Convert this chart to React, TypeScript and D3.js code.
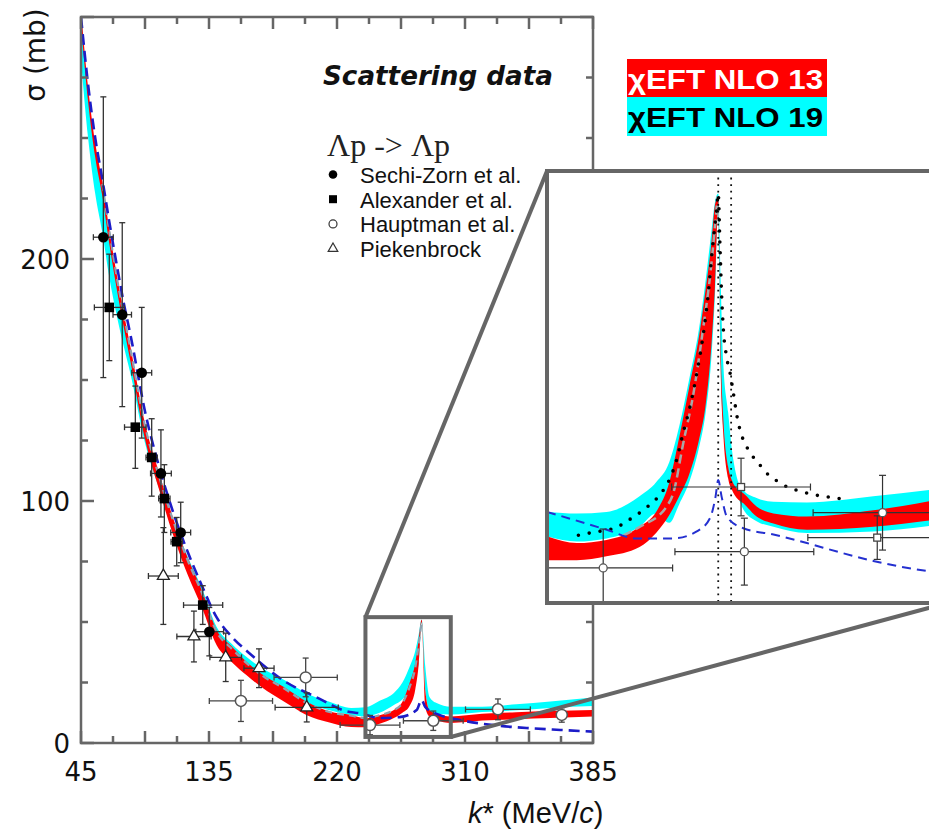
import { useEffect, useRef } from "react";
import * as d3 from "d3";

const W = 929;
const H = 832;

// labelled ticks on the k* axis (equally spaced on the page, not in value)
const kTickLabels = [45, 135, 220, 310, 385];
const sigmaTickLabels = [0, 100, 200];
const sigmaMax = 300;

// chiEFT bands, main panel (k* in MeV/c, sigma in mb)
const bandK = [45, 50, 55, 60, 65, 70, 75, 80, 90, 100, 110, 120, 130, 140, 150, 160, 170, 185, 200, 215, 230, 240, 250, 260, 266, 271, 275, 277.5, 279.5, 282, 285, 290, 300, 320, 340, 360, 385];
const nlo13Lo = [297, 265, 242, 226, 206, 188, 172, 157, 125.5, 104.5, 85.5, 69.5, 56, 40.5, 33.5, 28, 23, 17, 11.5, 8.5, 6.6, 6.5, 8, 10.3, 12.5, 15.3, 22, 33, 50, 15, 10.9, 9.5, 8.3, 9.3, 9.8, 10.3, 10.9];
const nlo13Hi = [303, 271, 248, 232, 212, 194, 178, 163, 132, 111.5, 92.5, 76.5, 63, 46.7, 40, 33.5, 28.5, 23, 17, 13, 11.6, 10.3, 11.5, 13.6, 17, 24.8, 33, 43, 51, 22, 13.6, 12, 11, 12.1, 12.7, 13.2, 13.6];
const nlo19Lo = [282, 250, 227, 211, 192, 177, 164, 152, 124, 105, 88, 72, 59, 44, 37, 31, 26, 21, 16.5, 13.5, 11.6, 11, 12.5, 15.7, 18, 21.9, 28, 33, 50, 22, 13.6, 12, 11.8, 12.8, 13.5, 14.5, 15.3];
const nlo19Hi = [300, 268, 245, 229, 209, 191, 175, 160, 129, 109, 92, 77, 64, 48, 41, 35.5, 31, 26, 20.5, 17, 14.5, 14.8, 17.5, 20.7, 25, 31.4, 38, 45, 51, 32, 19, 16.5, 15, 15, 16, 17.2, 18.8];

// blue dashed model curve
const dashK = [45, 50, 55, 60, 65, 70, 75, 80, 90, 100, 110, 120, 130, 140, 150, 162, 184, 206, 229, 236, 250, 264, 276, 279.5, 282, 292, 306.5, 326.6, 346, 366, 385];
const dashSigma = [300, 272, 250, 233, 215, 198, 182, 168, 137, 114, 95, 79, 65, 52, 44, 37, 26, 19, 12.8, 12.3, 10.3, 10.7, 13.6, 17.8, 14.9, 11.6, 9.5, 7.4, 6.2, 5.4, 4.7];

// grey dashed curve inside the bands
const grayK = [60, 70, 80, 90, 100, 110, 120, 130, 140, 150, 160, 170, 185, 200, 215, 230, 240, 250, 260, 266, 271, 275, 277.5, 279.5];
const graySigma = [231, 193, 162, 131, 110, 91.5, 75.5, 62, 46, 39, 33, 28, 22.5, 16.5, 12.8, 11.3, 10.3, 11.5, 13.6, 16.5, 23, 31, 41, 50];

// Lambda p data
const sechiK = [60.7, 74.0, 87.7, 101.2, 115.1, 135.2];
const sechiSigma = [209, 177, 153, 111.4, 87, 46];
const sechiKErr = [7, 6.5, 7, 7.3, 7, 9.5];
const sechiSigmaErr = [58, 38, 27, 18, 12.5, 10];

const alexanderK = [64.9, 83.2, 94.7, 103.6, 112.3, 130.6];
const alexanderSigma = [180, 130.5, 118, 101, 83.2, 57];
const alexanderKErr = [10.5, 7.6, 4, 4, 4, 13.5];
const alexanderSigmaErr = [22, 17, 16, 14, 10, 8];

const hauptmanK = [156.2, 199.2, 243.2, 287.7, 329.3, 366.7];
const hauptmanSigma = [17.4, 27.1, 7.4, 9.2, 13.9, 11.6];
const hauptmanKErr = [21, 21, 21, 21, 19, 0];
const hauptmanSigmaErr = [8.5, 8, 4, 4, 4.3, 3];

const piekenbrockK = [102.9, 124.4, 146.1, 168.2, 199.9];
const piekenbrockSigma = [69, 44, 35.4, 30.9, 14.7];
const piekenbrockKErr = [10.5, 12, 10.5, 10, 21];
const piekenbrockSigmaErr = [20, 10.5, 10, 8, 6];

const legendLabels = ["Sechi-Zorn et al.", "Alexander et al.", "Hauptman et al.", "Piekenbrock"];
const bandLabels = ["χEFT NLO 13", "χEFT NLO 19"];

// zoomed region marked in the main panel
const boxK = [240, 300];
const boxSigma = [2.5, 52];

// inset: Sigma N threshold region
const insetKDomain = [229, 350];
const insetSigmaDomain = [2.5, 58];
const thresholdK = [280.8, 284.7];
const insetBandK = [229.4, 238, 247, 257, 262, 266, 269, 272, 275, 277, 278.8, 279.8, 280.8, 281.5, 282.3, 283.8, 285, 286.4, 288.4, 292.4, 297.5, 307.6, 327.7, 350];
const insetNlo13Lo = [8.0, 8.0, 8.5, 9.7, 11.5, 13.8, 16.2, 19.0, 23.5, 28.0, 36.0, 43.1, 53.5, 33, 24.5, 18.5, 17, 16, 15.3, 13.6, 12.7, 11.9, 12.3, 13.4];
const insetNlo13Hi = [11.0, 10.2, 10.6, 12.3, 14.2, 18.0, 23.8, 30.2, 36.8, 42.8, 49.0, 53.6, 54.7, 36, 26.5, 20, 18.2, 17.2, 16.6, 14.9, 14.0, 13.6, 14.4, 16.0];
const insetNlo19Lo = [11.0, 10.4, 10.8, 12.3, 14.0, 12.8, 15.2, 18.0, 22.5, 27.0, 34.5, 42.0, 53.0, 33.7, 25.1, 19.5, 18.0, 16.5, 14.5, 13.0, 12.3, 11.5, 11.7, 12.7];
const insetNlo19Hi = [14.2, 14.0, 14.2, 16.2, 18.0, 20.6, 25.2, 31.2, 37.8, 44.0, 50.5, 54.0, 55.1, 44.4, 33.5, 27.0, 22.0, 18.7, 17.0, 16.0, 15.5, 15.4, 16.2, 17.3];
const insetGrayK = [252.1, 257.1, 265.2, 267.2, 270.2, 273.3, 276.3, 278.3, 279.8, 280.6];
const insetGraySigma = [11.2, 12.3, 14.9, 16.6, 23.0, 29.4, 38.0, 44.4, 50.8, 54.7];
const insetDotK = [238.5, 242, 246, 250.1, 253.1, 256.1, 259.2, 261.7, 264.2, 266.2, 268.2, 270.2, 272.3, 274.3, 276.3, 277.8, 279.1, 280.3, 280.8, 281.3, 281.8, 282.3, 283.3, 284.4, 285.4, 286.6, 287.9, 288.9, 290.6, 292.9, 295.4, 298.5, 301.7, 305.2, 308.8, 312.6, 316.3, 320.1];
const insetDotSigma = [11.2, 11.5, 11.8, 12.2, 13.0, 13.8, 14.8, 15.7, 17.0, 18.5, 20.9, 24.4, 27.8, 32.0, 37.1, 42.3, 48.3, 53.0, 55.1, 48.7, 42.3, 38.0, 34.2, 32.0, 29.4, 26.2, 24.0, 23.0, 21.7, 20.5, 19.2, 18.2, 17.4, 16.9, 16.5, 16.2, 16.0, 15.7];
const insetDashK = [229, 237, 247.1, 256.1, 267.2, 274.3, 278.3, 280.0, 280.8, 281.8, 283.4, 288.4, 297.5, 307.6, 317.6, 327.7, 344.2, 350];
const insetDashSigma = [14.2, 13.2, 11.9, 10.8, 10.8, 11.7, 13.4, 16.2, 18.3, 16.2, 13.6, 12.1, 11.3, 10.2, 9.0, 7.9, 6.6, 6.3];
const insetCircleK = [246.0, 288.7, 330.5];
const insetCircleSigma = [7.0, 9.1, 14.1];
const insetCircleKErr = [21, 21, 21];
const insetCircleSigmaErr = [5, 4.3, 4.8];
const insetSquareK = [287.7, 328.9];
const insetSquareSigma = [17.4, 10.9];
const insetSquareKErr = [21, 21];
const insetSquareSigmaErr = [3.7, 2.8];

const RED = "#ff0000";
const CYAN = "#00ffff";
const AXIS = "#666";
const SANS = "'DejaVu Sans', sans-serif";
const ARIAL = "'Liberation Sans', Arial, sans-serif";

const areaPath = (xs, ys, ks, lo, hi) =>
  d3.area<number>()
    .x(i => xs(ks[i]))
    .y0(i => ys(lo[i]))
    .y1(i => ys(hi[i]))
    .curve(d3.curveMonotoneX)(d3.range(ks.length));

const linePath = (xs, ys, ks, vs) =>
  d3.line<number>()
    .x(i => xs(ks[i]))
    .y(i => ys(vs[i]))
    .curve(d3.curveMonotoneX)(d3.range(ks.length));

function errorBars(g, xs, ys, ks, ss, kErr, sErr, color, width, cap) {
  ks.forEach((k, i) => {
    const cx = xs(k);
    const cy = ys(ss[i]);
    const seg = (x1, y1, x2, y2) =>
      g.append("line").attr("x1", x1).attr("y1", y1).attr("x2", x2).attr("y2", y2)
        .attr("stroke", color).attr("stroke-width", width);
    if (kErr[i] > 0) {
      const x0 = xs(k - kErr[i]);
      const x1 = xs(k + kErr[i]);
      seg(x0, cy, x1, cy);
      seg(x0, cy - cap, x0, cy + cap);
      seg(x1, cy - cap, x1, cy + cap);
    }
    if (sErr[i] > 0) {
      const y0 = ys(ss[i] - sErr[i]);
      const y1 = ys(ss[i] + sErr[i]);
      seg(cx, y0, cx, y1);
      seg(cx - cap, y0, cx + cap, y0);
      seg(cx - cap, y1, cx + cap, y1);
    }
  });
}

function drawChart(node) {
  const svg = d3.select(node);
  svg.selectAll("*").remove();

  const m = { left: 81, right: 593, top: 17, bottom: 743 };
  const x = d3.scaleLinear()
    .domain(kTickLabels)
    .range(kTickLabels.map((_, i) => m.left + (i * (m.right - m.left)) / (kTickLabels.length - 1)));
  const y = d3.scaleLinear().domain([0, sigmaMax]).range([m.bottom, m.top]);

  const defs = svg.append("defs");
  defs.append("clipPath").attr("id", "plot-clip").append("rect")
    .attr("x", m.left).attr("y", m.top)
    .attr("width", m.right - m.left).attr("height", m.bottom - m.top);

  svg.append("rect").attr("width", W).attr("height", H).attr("fill", "#fff");

  // bands and model curves
  const curves = svg.append("g").attr("clip-path", "url(#plot-clip)");
  curves.append("path").attr("d", areaPath(x, y, bandK, nlo19Lo, nlo19Hi)).attr("fill", CYAN);
  curves.append("path").attr("d", areaPath(x, y, bandK, nlo13Lo, nlo13Hi)).attr("fill", RED);
  curves.append("path").attr("d", linePath(x, y, grayK, graySigma))
    .attr("fill", "none").attr("stroke", "#8ea2b0").attr("stroke-width", 2.2).attr("stroke-dasharray", "7 5");
  curves.append("path").attr("d", linePath(x, y, dashK, dashSigma))
    .attr("fill", "none").attr("stroke", "#1c1cc8").attr("stroke-width", 2.6).attr("stroke-dasharray", "11 6");

  // data
  const pts = svg.append("g");
  errorBars(pts, x, y, sechiK, sechiSigma, sechiKErr, sechiSigmaErr, "#333", 1.3, 3);
  errorBars(pts, x, y, alexanderK, alexanderSigma, alexanderKErr, alexanderSigmaErr, "#333", 1.3, 3);
  errorBars(pts, x, y, piekenbrockK, piekenbrockSigma, piekenbrockKErr, piekenbrockSigmaErr, "#333", 1.3, 3);
  errorBars(pts, x, y, hauptmanK, hauptmanSigma, hauptmanKErr, hauptmanSigmaErr, "#444", 1.3, 3);

  pts.selectAll(".sechi").data(d3.range(sechiK.length)).join("circle")
    .attr("cx", i => x(sechiK[i])).attr("cy", i => y(sechiSigma[i])).attr("r", 5.3).attr("fill", "#000");
  pts.selectAll(".alex").data(d3.range(alexanderK.length)).join("rect")
    .attr("x", i => x(alexanderK[i]) - 4.8).attr("y", i => y(alexanderSigma[i]) - 4.8)
    .attr("width", 9.6).attr("height", 9.6).attr("fill", "#000");
  pts.selectAll(".haupt").data(d3.range(hauptmanK.length)).join("circle")
    .attr("cx", i => x(hauptmanK[i])).attr("cy", i => y(hauptmanSigma[i])).attr("r", 5.5)
    .attr("fill", "#fff").attr("stroke", "#555").attr("stroke-width", 1.5);
  const tri = d3.symbol(d3.symbolTriangle, 62);
  pts.selectAll(".piek").data(d3.range(piekenbrockK.length)).join("path")
    .attr("d", tri())
    .attr("transform", i => `translate(${x(piekenbrockK[i])},${y(piekenbrockSigma[i])})`)
    .attr("fill", "#fff").attr("stroke", "#222").attr("stroke-width", 1.3);

  // frame and ticks
  const axes = svg.append("g").attr("stroke", AXIS).attr("stroke-width", 2.5);
  axes.append("rect").attr("x", m.left).attr("y", m.top)
    .attr("width", m.right - m.left).attr("height", m.bottom - m.top).attr("fill", "none");
  const nx = (kTickLabels.length - 1) * 4;
  d3.range(nx + 1).forEach(i => {
    const kv = x.invert(m.left + (i * (m.right - m.left)) / nx);
    const len = i % 2 === 0 ? 12 : 7;
    axes.append("line").attr("x1", x(kv)).attr("x2", x(kv)).attr("y1", m.bottom).attr("y2", m.bottom - len);
    axes.append("line").attr("x1", x(kv)).attr("x2", x(kv)).attr("y1", m.top).attr("y2", m.top + len);
  });
  d3.range(0, sigmaMax + 1, 25).forEach(s => {
    const len = s % 100 === 0 ? 13 : 7;
    axes.append("line").attr("x1", m.left).attr("x2", m.left + len).attr("y1", y(s)).attr("y2", y(s));
    axes.append("line").attr("x1", m.right).attr("x2", m.right - len).attr("y1", y(s)).attr("y2", y(s));
  });

  svg.append("g").selectAll("text").data(kTickLabels).join("text")
    .attr("x", d => x(d)).attr("y", 781).attr("text-anchor", "middle")
    .attr("font-family", SANS).attr("font-size", 26).attr("fill", "#111").text(d => d);
  svg.append("g").selectAll("text").data(sigmaTickLabels).join("text")
    .attr("x", 70).attr("y", d => y(d) + 9.5).attr("text-anchor", "end")
    .attr("font-family", SANS).attr("font-size", 26).attr("fill", "#111").text(d => d);

  svg.append("text").attr("transform", "translate(45,55) rotate(-90)").attr("text-anchor", "middle")
    .attr("font-family", SANS).attr("font-size", 28).attr("fill", "#111").text("σ (mb)");
  const xt = svg.append("text").attr("x", 468).attr("y", 823)
    .attr("font-family", ARIAL).attr("font-size", 29).attr("fill", "#111");
  xt.append("tspan").attr("font-style", "italic").text("k");
  xt.append("tspan").text("* (MeV/");
  xt.append("tspan").attr("font-style", "italic").text("c");
  xt.append("tspan").text(")");

  // in-plot legend
  svg.append("text").attr("x", 323).attr("y", 85)
    .attr("font-family", SANS).attr("font-weight", "bold").attr("font-style", "italic")
    .attr("font-size", 27).attr("textLength", 230).attr("lengthAdjust", "spacingAndGlyphs")
    .attr("fill", "#111").text("Scattering data");
  svg.append("text").attr("x", 327).attr("y", 156)
    .attr("font-family", "'Liberation Serif', 'Times New Roman', serif").attr("font-size", 32)
    .attr("fill", "#222").text("Λp -> Λp");
  const lg = svg.append("g");
  const rowY = legendLabels.map((_, i) => 174.5 + i * 24.7);
  lg.append("circle").attr("cx", 333).attr("cy", rowY[0]).attr("r", 4.3).attr("fill", "#000");
  lg.append("rect").attr("x", 329).attr("y", rowY[1] - 4).attr("width", 8).attr("height", 8).attr("fill", "#000");
  lg.append("circle").attr("cx", 333).attr("cy", rowY[2]).attr("r", 4).attr("fill", "#fff").attr("stroke", "#333").attr("stroke-width", 1.2);
  lg.append("path").attr("d", d3.symbol(d3.symbolTriangle, 40)()).attr("transform", `translate(333,${rowY[3]})`)
    .attr("fill", "#fff").attr("stroke", "#333").attr("stroke-width", 1.2);
  lg.selectAll("text").data(legendLabels).join("text")
    .attr("x", 360).attr("y", (_, i) => rowY[i] + 8.5)
    .attr("font-family", ARIAL).attr("font-size", 22).attr("fill", "#111").text(d => d);

  // zoom box and connectors
  const bx0 = x(boxK[0]), bx1 = x(boxK[1]), by0 = y(boxSigma[1]), by1 = y(boxSigma[0]);
  const inset = { left: 547, top: 171, width: 400, height: 432 };
  const zg = svg.append("g").attr("stroke", AXIS).attr("stroke-width", 4).attr("fill", "none");
  zg.append("rect").attr("x", bx0).attr("y", by0).attr("width", bx1 - bx0).attr("height", by1 - by0);
  zg.append("line").attr("x1", bx0).attr("y1", by0).attr("x2", inset.left).attr("y2", inset.top);
  zg.append("line").attr("x1", bx1).attr("y1", by1)
    .attr("x2", inset.left + inset.width).attr("y2", inset.top + inset.height);

  // inset
  const xi = d3.scaleLinear().domain(insetKDomain).range([inset.left, inset.left + inset.width]);
  const yi = d3.scaleLinear().domain(insetSigmaDomain).range([inset.top + inset.height, inset.top]);
  defs.append("clipPath").attr("id", "inset-clip").append("rect")
    .attr("x", inset.left).attr("y", inset.top).attr("width", inset.width).attr("height", inset.height);
  svg.append("rect").attr("x", inset.left).attr("y", inset.top)
    .attr("width", inset.width).attr("height", inset.height).attr("fill", "#fff");
  const ig = svg.append("g").attr("clip-path", "url(#inset-clip)");
  ig.append("path").attr("d", areaPath(xi, yi, insetBandK, insetNlo19Lo, insetNlo19Hi)).attr("fill", CYAN);
  ig.append("path").attr("d", areaPath(xi, yi, insetBandK, insetNlo13Lo, insetNlo13Hi)).attr("fill", RED);
  ig.append("path").attr("d", linePath(xi, yi, insetGrayK, insetGraySigma))
    .attr("fill", "none").attr("stroke", "#a8a8a8").attr("stroke-width", 2.5).attr("stroke-dasharray", "9 5");
  thresholdK.forEach(k => {
    ig.append("line").attr("x1", xi(k)).attr("x2", xi(k)).attr("y1", inset.top).attr("y2", inset.top + inset.height)
      .attr("stroke", "#111").attr("stroke-width", 1.8).attr("stroke-dasharray", "1.8 4.8");
  });
  ig.append("path").attr("d", linePath(xi, yi, insetDotK, insetDotSigma))
    .attr("fill", "none").attr("stroke", "#000").attr("stroke-width", 3.6)
    .attr("stroke-linecap", "round").attr("stroke-dasharray", "0 11");
  ig.append("path").attr("d", linePath(xi, yi, insetDashK, insetDashSigma))
    .attr("fill", "none").attr("stroke", "#2430d0").attr("stroke-width", 2).attr("stroke-dasharray", "9 6");
  errorBars(ig, xi, yi, insetCircleK, insetCircleSigma, insetCircleKErr, insetCircleSigmaErr, "#333", 1.2, 3.5);
  errorBars(ig, xi, yi, insetSquareK, insetSquareSigma, insetSquareKErr, insetSquareSigmaErr, "#333", 1.2, 3.5);
  ig.selectAll(".ic").data(d3.range(insetCircleK.length)).join("circle")
    .attr("cx", i => xi(insetCircleK[i])).attr("cy", i => yi(insetCircleSigma[i])).attr("r", 4)
    .attr("fill", "#fff").attr("stroke", "#555").attr("stroke-width", 1.3);
  ig.selectAll(".is").data(d3.range(insetSquareK.length)).join("rect")
    .attr("x", i => xi(insetSquareK[i]) - 3.5).attr("y", i => yi(insetSquareSigma[i]) - 3.5)
    .attr("width", 7).attr("height", 7)
    .attr("fill", "#fff").attr("stroke", "#444").attr("stroke-width", 1.3);
  svg.append("rect").attr("x", inset.left).attr("y", inset.top)
    .attr("width", inset.width).attr("height", inset.height)
    .attr("fill", "none").attr("stroke", AXIS).attr("stroke-width", 4);

  // band legend, top right
  const bl = svg.append("g");
  const boxColors = [RED, CYAN];
  const textColors = ["#fff", "#000"];
  const rowTop = [59, 97];
  bandLabels.forEach((label, i) => {
    bl.append("rect").attr("x", 627).attr("y", rowTop[i]).attr("width", 200).attr("height", i === 0 ? 38 : 39)
      .attr("fill", boxColors[i]);
    bl.append("text").attr("x", 628).attr("y", rowTop[i] + 30)
      .attr("font-family", ARIAL).attr("font-weight", "bold").attr("font-size", 28)
      .attr("textLength", 195).attr("lengthAdjust", "spacingAndGlyphs")
      .attr("fill", textColors[i]).text(label);
  });
}

export default function App() {
  const ref = useRef(null);
  useEffect(() => {
    if (ref.current) drawChart(ref.current);
  }, []);
  return (
    <svg ref={ref} width={W} height={H} style={{ position: "absolute", left: 0, top: 0, display: "block" }} />
  );
}
